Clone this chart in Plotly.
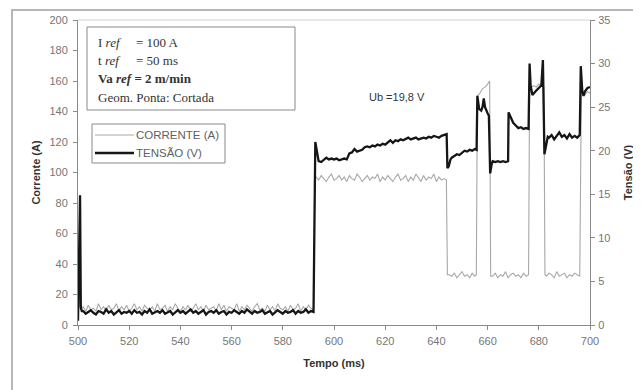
import plotly.graph_objects as go

# ---------------- data ----------------
cur_t = [500, 500.6, 501,
         502, 503, 504, 505, 506, 507, 508, 509, 510, 511,
         512, 513, 514, 515, 516, 517, 518, 519, 520, 521,
         522, 523, 524, 525, 526, 527, 528, 529, 530, 531,
         532, 533, 534, 535, 536, 537, 538, 539, 540, 541,
         542, 543, 544, 545, 546, 547, 548, 549, 550, 551,
         552, 553, 554, 555, 556, 557, 558, 559, 560, 561,
         562, 563, 564, 565, 566, 567, 568, 569, 570, 571,
         572, 573, 574, 575, 576, 577, 578, 579, 580, 581,
         582, 583, 584, 585, 586, 587, 588, 589, 590, 591,
         592, 592.5,
         593, 594, 595, 596, 597, 598, 599, 600, 601, 602,
         603, 604, 605, 606, 607, 608, 609, 610, 611, 612,
         613, 614, 615, 616, 617, 618, 619, 620, 621, 622,
         623, 624, 625, 626, 627, 628, 629, 630, 631, 632,
         633, 634, 635, 636, 637, 638, 639, 640, 641, 642,
         643, 643.9, 644.3,
         645, 646, 647, 648, 649, 650, 651, 652, 653, 654, 655,
         655.6, 656, 657, 658, 659, 660, 660.8, 661.2,
         662, 663, 664, 665, 666, 667, 668, 669, 670, 671, 672, 673, 674, 675, 676,
         676.4, 677, 678, 679, 680, 681, 682, 682.4,
         683, 684, 685, 686, 687, 688, 689, 690, 691, 692, 693, 694, 695, 696,
         696.6, 697, 698, 699, 700]

current_a = [8, 20, 10,
             12, 9, 13, 10, 11, 9, 14, 10, 12, 9,
             13, 10, 11, 14, 9, 12, 10, 13, 9, 11,
             14, 10, 12, 9, 13, 11, 10, 12, 9, 14,
             10, 11, 13, 9, 12, 10, 14, 11, 9, 12,
             10, 13, 9, 11, 14, 10, 12, 9, 13, 10,
             11, 12, 9, 14, 10, 13, 9, 12, 11, 10,
             14, 9, 12, 10, 13, 11, 9, 12, 14, 10,
             11, 9, 13, 10, 12, 9, 14, 11, 10, 12,
             9, 13, 10, 11, 14, 9, 12, 10, 13, 11,
             10, 96,
             97, 95, 98, 96, 94, 97, 99, 95, 96, 98,
             95, 97, 94, 98, 96, 95, 99, 97, 94, 96,
             98, 95, 97, 96, 99, 94, 97, 95, 98, 96,
             94, 97, 99, 95, 96, 98, 94, 97, 95, 99,
             96, 94, 98, 95, 97, 96, 99, 94, 97, 95,
             96, 95, 33,
             33, 32, 34, 31, 33, 35, 32, 33, 31, 34, 32,
             33, 150, 152, 155, 156, 158, 160, 32,
             32, 34, 31, 33, 32, 35, 31, 33, 34, 32, 33, 31, 34, 32, 33,
             155, 156, 157, 156, 158, 157, 156, 33,
             32, 34, 33, 31, 35, 32, 33, 34, 31, 33, 32, 34, 33, 32,
             150, 152, 151, 153, 152]

vol_t = [500, 500.5, 500.8, 501.1, 501.5,
         502, 503, 504, 505, 506, 507, 508, 509, 510, 511,
         512, 513, 514, 515, 516, 517, 518, 519, 520, 521,
         522, 523, 524, 525, 526, 527, 528, 529, 530, 531,
         532, 533, 534, 535, 536, 537, 538, 539, 540, 541,
         542, 543, 544, 545, 546, 547, 548, 549, 550, 551,
         552, 553, 554, 555, 556, 557, 558, 559, 560, 561,
         562, 563, 564, 565, 566, 567, 568, 569, 570, 571,
         572, 573, 574, 575, 576, 577, 578, 579, 580, 581,
         582, 583, 584, 585, 586, 587, 588, 589, 590, 591,
         592, 592.7, 593.5,
         594, 595, 596, 597, 598, 599, 600, 601, 602, 603,
         604, 605, 606, 607, 608, 609, 610, 611, 612, 613,
         614, 615, 616, 617, 618, 619, 620, 621, 622, 623,
         624, 625, 626, 627, 628, 629, 630, 631, 632, 633,
         634, 635, 636, 637, 638, 639, 640, 641, 642, 643,
         644, 644.3, 644.8, 645.5,
         646, 647, 648, 649, 650, 651, 652, 653, 654, 655,
         655.7, 656, 656.7, 657.5, 658, 658.5, 659, 659.5, 660, 660.5, 661, 661.6,
         662, 663, 664, 665, 666, 667, 668, 668.2,
         669, 670, 671, 672, 673, 674, 675, 676,
         676.4, 676.8, 677.5, 678, 679, 680, 681, 681.6, 682.2, 682.8, 683.5,
         684, 685, 686, 687, 688, 689, 690, 691, 692, 693, 694, 695, 696,
         696.4, 697, 697.5, 698, 699, 700]

voltage_v = [0.5, 8, 14.9, 2.0, 1.6,
             1.6, 1.3, 1.5, 1.7, 1.4, 1.2, 1.6, 1.5, 1.3, 1.8,
             1.4, 1.6, 1.2, 1.5, 1.7, 1.3, 1.5, 1.4, 1.6, 1.3,
             1.7, 1.4, 1.5, 1.2, 1.6, 1.4, 1.8, 1.3, 1.5, 1.6,
             1.4, 1.7, 1.3, 1.5, 1.6, 1.2, 1.5, 1.7, 1.4, 1.6,
             1.3, 1.5, 1.8, 1.4, 1.6, 1.3, 1.5, 1.7, 1.2, 1.5,
             1.6, 1.4, 1.7, 1.3, 1.5, 1.6, 1.2, 1.5, 1.4, 1.7,
             1.5, 1.3, 1.6, 1.4, 1.8, 1.5, 1.3, 1.6, 1.4, 1.5,
             1.7, 1.3, 1.5, 1.6, 1.2, 1.4, 1.7, 1.5, 1.3, 1.6,
             1.4, 1.5, 1.7, 1.3, 1.6, 1.4, 1.5, 1.8, 1.4, 1.6,
             1.5, 21.0, 19.5,
             18.8, 18.7, 18.9, 19.2, 19.0, 19.1, 19.0, 19.1, 18.9, 19.0,
             19.1, 19.0, 19.7, 19.8, 20.2, 19.9, 20.0, 20.1, 20.4, 20.5,
             20.4, 20.6, 20.5, 20.7, 20.6, 20.8, 20.7, 20.9, 21.2, 20.9,
             21.2, 21.1, 21.3, 21.2, 21.4, 21.5, 21.3, 21.4, 21.5, 21.3,
             21.4, 21.5, 21.4, 21.6, 21.5, 21.7, 21.6, 21.5, 21.7, 21.8,
             21.9, 18.0, 18.2, 19.0,
             19.2, 19.4, 19.6, 19.5, 19.8, 20.0, 19.9, 20.1, 20.0, 20.2,
             20.1, 26.3, 24.8, 24.6, 25.0, 26.0, 25.0, 24.5, 24.3, 24.0, 17.4, 18.5,
             18.8, 18.7, 18.8, 18.7, 18.8, 18.7, 18.8, 24.4,
             23.8, 23.2, 22.9, 22.6, 22.7, 22.5, 22.6, 22.5,
             30.0, 27.5, 26.4, 26.6, 26.9, 27.2, 27.5, 30.4, 19.6, 20.5, 21.6,
             21.5, 21.8, 21.3, 21.7, 22.1, 21.6, 21.8, 21.4, 21.9, 21.5, 21.7, 21.5, 21.8,
             29.7, 26.8, 26.3, 26.8, 27.2, 27.3]

x_ticks = [500, 520, 540, 560, 580, 600, 620, 640, 660, 680, 700]
series_names = ["CORRENTE (A)", "TENSÃO (V)"]
info_labels = ["I <i>ref</i>", "t <i>ref</i>"]
info_values = ["= 100 A", "= 50 ms"]
info_bold = "<b>Va <i>ref</i> = 2 m/min</b>"
info_geom = "Geom. Ponta: Cortada"
ub_text = "Ub =19,8 V"

# ---------------- layout geometry (window pixels) ----------------
WIN_W, WIN_H = 641, 390
OFF = 8                      # default page body margin
PL, PR, PT, PB = 78, 590, 20, 325
CUR_COLOR, CUR_W = "#a8a8a8", 1.1
VOL_COLOR, VOL_W = "#161616", 2.3


def px(x):
    return (x - PL) / (PR - PL)


def py(y):
    return (PB - y) / (PB - PT)


fig = go.Figure()
fig.add_trace(go.Scatter(x=cur_t, y=current_a, mode="lines", name=series_names[0],
                         line=dict(color=CUR_COLOR, width=CUR_W), yaxis="y"))
fig.add_trace(go.Scatter(x=vol_t, y=voltage_v, mode="lines", name=series_names[1],
                         line=dict(color=VOL_COLOR, width=VOL_W), yaxis="y2"))

axis_font = dict(family="Liberation Sans, Arial", size=11, color="#767676")
title_font = dict(family="Liberation Sans, Arial", size=11, color="#333333")
axis_common = dict(showgrid=False, zeroline=False, showline=True,
                   linecolor="#8a8a8a", linewidth=1, ticks="outside", ticklen=4,
                   tickcolor="#8a8a8a", tickfont=axis_font)

fig.update_layout(
    width=WIN_W - OFF, height=WIN_H - OFF,
    margin=dict(l=PL - OFF, r=WIN_W - PR, t=PT - OFF, b=WIN_H - PB, autoexpand=False),
    paper_bgcolor="white", plot_bgcolor="white",
    showlegend=False,
    xaxis=dict(range=[500, 700], tickvals=x_ticks, ticklabelstandoff=2, **axis_common,
               title=dict(text="<b>Tempo (ms)</b>", font=title_font, standoff=13)),
    yaxis=dict(range=[0, 200], dtick=20, ticklabelstandoff=3, **axis_common,
               title=dict(text="<b>Corrente (A)</b>", font=title_font, standoff=6)),
    yaxis2=dict(range=[0, 35], dtick=5, overlaying="y", side="right",
                ticklabelstandoff=1, **axis_common,
                title=dict(text="<b>Tensão (V)</b>", font=title_font, standoff=14)),
)

# outer chart frame and plot-area top line
fig.add_shape(type="rect", xref="paper", yref="paper",
              x0=px(12), x1=px(680), y0=py(420), y1=py(10),
              line=dict(color="#a0a0a0", width=1.5), layer="below")
fig.add_shape(type="line", xref="paper", yref="paper",
              x0=0, x1=1, y0=1, y1=1, line=dict(color="#d0d0d0", width=1))

# info box
fig.add_shape(type="rect", xref="paper", yref="paper",
              x0=px(87), x1=px(295), y0=py(110), y1=py(27),
              line=dict(color="#8a8a8a", width=1), fillcolor="white")

serif = dict(family="Liberation Serif, Times New Roman", size=13, color="#333333")
rows_y = [42.7, 60.7, 78.7, 97.3]
for i in range(2):
    fig.add_annotation(xref="paper", yref="paper", x=px(96), y=py(rows_y[i]),
                       text=info_labels[i], showarrow=False, xanchor="left",
                       yanchor="middle", font=serif)
    fig.add_annotation(xref="paper", yref="paper", x=px(134), y=py(rows_y[i]),
                       text=info_values[i], showarrow=False, xanchor="left",
                       yanchor="middle", font=serif)
fig.add_annotation(xref="paper", yref="paper", x=px(96), y=py(rows_y[2]),
                   text=info_bold, showarrow=False, xanchor="left",
                   yanchor="middle", font=serif)
fig.add_annotation(xref="paper", yref="paper", x=px(96), y=py(rows_y[3]),
                   text=info_geom, showarrow=False, xanchor="left",
                   yanchor="middle", font=serif)

# legend box (drawn by hand to match the original spacing)
fig.add_shape(type="rect", xref="paper", yref="paper",
              x0=px(92), x1=px(225), y0=py(163), y1=py(124),
              line=dict(color="#8a8a8a", width=1), fillcolor="white")
leg_y = [135, 153]
leg_style = [(CUR_COLOR, CUR_W), (VOL_COLOR, VOL_W + 0.3)]
for i in range(2):
    fig.add_shape(type="line", xref="paper", yref="paper",
                  x0=px(95), x1=px(134), y0=py(leg_y[i]), y1=py(leg_y[i]),
                  line=dict(color=leg_style[i][0], width=leg_style[i][1]))
    fig.add_annotation(xref="paper", yref="paper", x=px(134), y=py(leg_y[i]),
                       text=series_names[i], showarrow=False, xanchor="left",
                       yanchor="middle",
                       font=dict(family="Liberation Sans, Arial", size=11.5,
                                 color="#606060"))

fig.add_annotation(xref="paper", yref="paper", x=px(397), y=py(97),
                   text=ub_text, showarrow=False, xanchor="center", yanchor="middle",
                   font=dict(family="Liberation Sans, Arial", size=11, color="#333333"))

fig.write_html("out.html")
